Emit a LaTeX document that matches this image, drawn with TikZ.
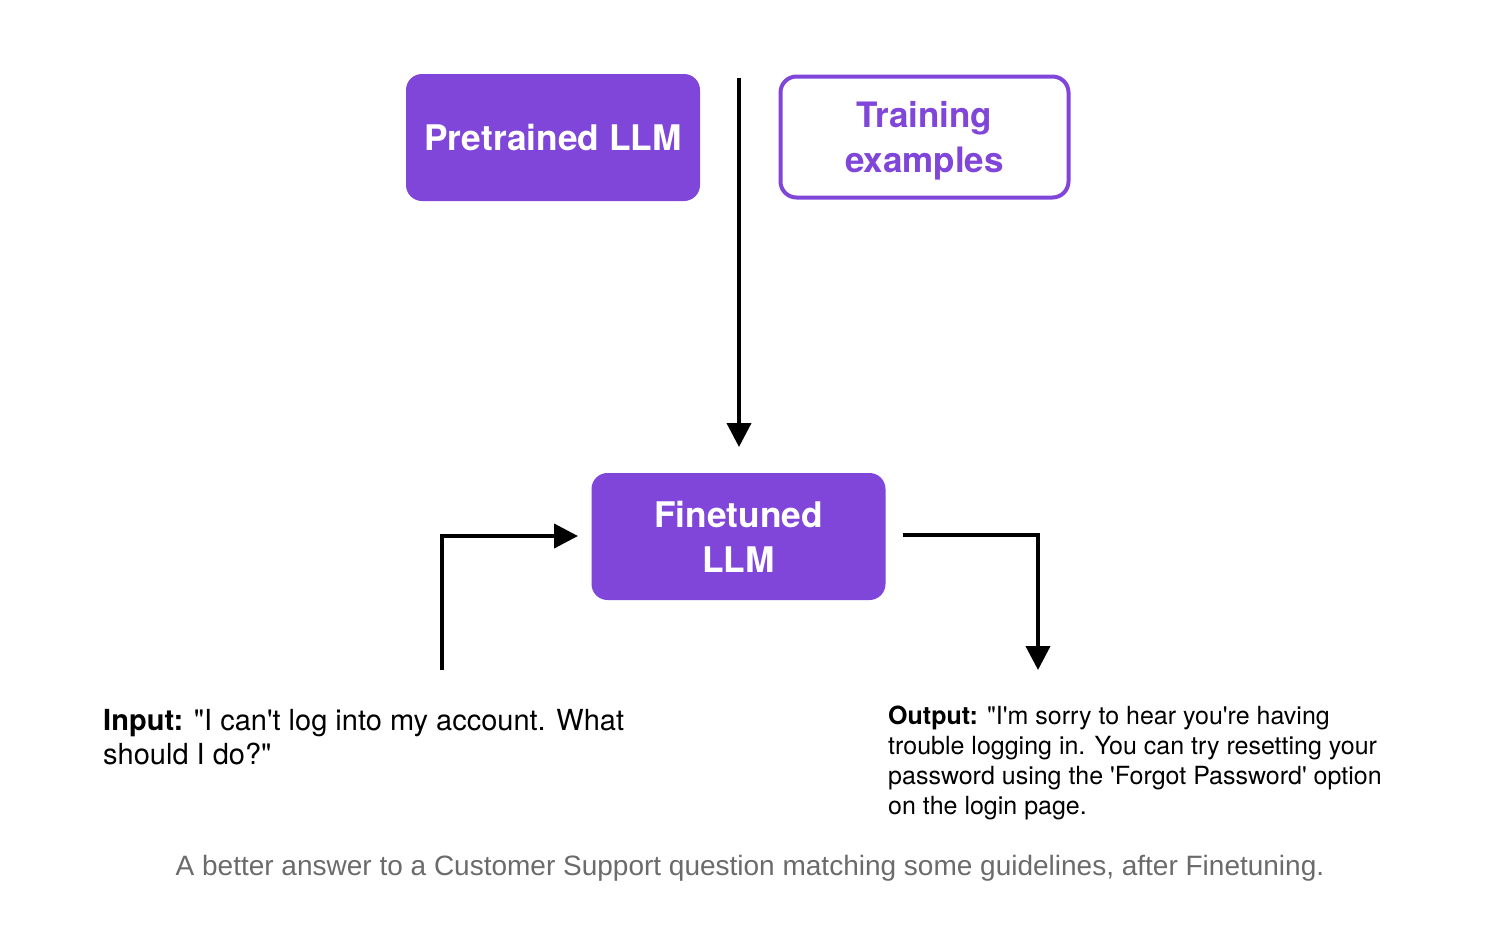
\documentclass[tikz,border=0pt]{standalone}
\usepackage{fontspec}
\setmainfont{TeX Gyre Heros}
\newfontfamily\capfont{Liberation Sans}
\usetikzlibrary{arrows.meta}
\definecolor{llmpurple}{HTML}{8046D9}
\definecolor{capgray}{HTML}{6B6B6B}
\newcommand{\dq}{\textquotedbl}
\newcommand{\sq}{\textquotesingle}
\tikzset{
  fillbox/.style={rectangle, rounded corners=16pt, fill=llmpurple, draw=none, text=white, font=\bfseries\fontsize{35.3}{45}\selectfont, align=center, minimum width=294pt, minimum height=127pt, inner sep=0pt},
  outlinebox/.style={rectangle, rounded corners=16pt, fill=white, draw=llmpurple, line width=4pt, text=llmpurple, font=\bfseries\fontsize{35}{45}\selectfont, align=center, minimum width=288pt, minimum height=121pt, inner sep=0pt, text depth=0pt},
  conn/.style={line width=4pt, -{Triangle[length=24pt,width=24pt]}},
  bodytext/.style={font=\fontsize{29}{34}\selectfont, align=left, anchor=north west, inner sep=0pt},
  outtext/.style={font=\fontsize{25}{30}\selectfont, align=left, anchor=north west, inner sep=0pt},
  captext/.style={font=\capfont\fontsize{28}{32}\selectfont, text=capgray, inner sep=0pt}
}
\begin{document}
\begin{tikzpicture}[x=1pt,y=-1pt]
\useasboundingbox[fill=white] (0,0) rectangle (1494,930);
\node[fillbox] (pre) at (553,137.5) {Pretrained LLM};
\node[outlinebox] (train) at (924.5,137) {Training\\examples};
\node[fillbox] (fine) at (738.5,536.5) {Finetuned\\LLM};
\coordinate (vtop) at (739,78);
\coordinate (vend) at (739,447);
\draw[conn] (vtop) -- (vend);
\coordinate (inStart) at (442,670);
\coordinate (inEnd) at (578,536);
\draw[conn] (inStart) |- (inEnd);
\coordinate (outStart) at (903,535);
\coordinate (outEnd) at (1038,670);
\draw[conn] (outStart) -| (outEnd);
\node[bodytext] (input) at (103,709) {\textbf{Input:} \dq I can\sq t log into my account. What\\should I do?\dq};
\node[outtext] (output) at (888,706) {\textbf{Output:} \dq I\sq m sorry to hear you\sq re having\\trouble logging in. You can try resetting your\\password using the \sq Forgot Password\sq{} option\\on the login page.};
\node[captext] (cap) at (750,868) {A better answer to a Customer Support question matching some guidelines, after Finetuning.};
\end{tikzpicture}
\end{document}
